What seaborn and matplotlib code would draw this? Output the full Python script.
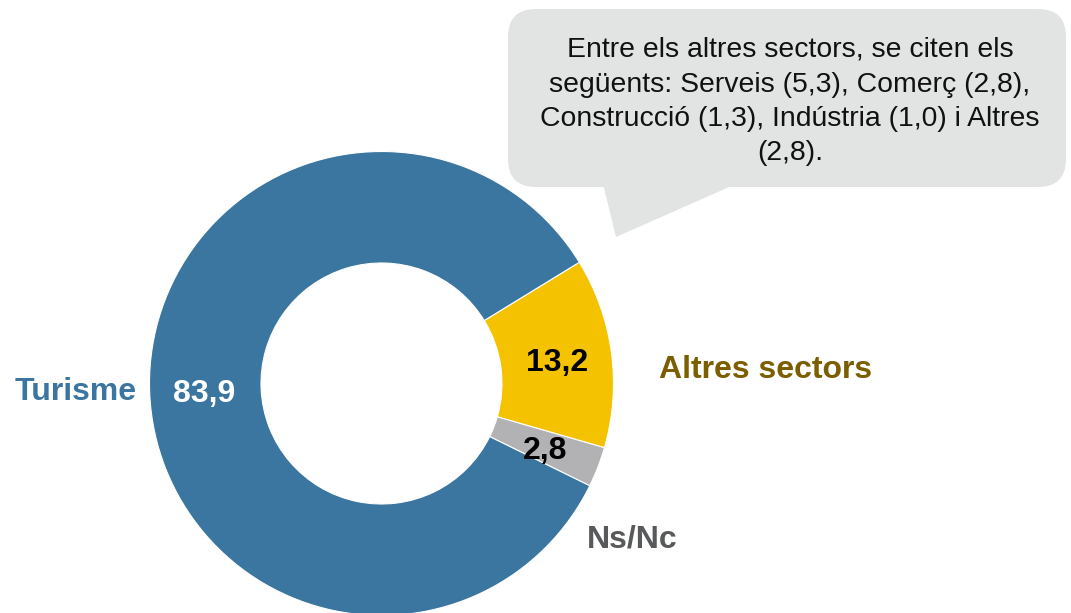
import matplotlib
matplotlib.use("Agg")
import matplotlib.pyplot as plt
import seaborn as sns
from matplotlib.patches import FancyBboxPatch, Polygon

# ---- data ----
categories = ["Altres sectors", "Ns/Nc", "Turisme"]
values = [13.2, 2.8, 83.9]
value_labels = ["13,2", "2,8", "83,9"]
callout_lines = [
    "Entre els altres sectors, se citen els",
    "següents: Serveis (5,3), Comerç (2,8),",
    "Construcció (1,3), Indústria (1,0) i Altres",
    "(2,8).",
]

# ---- style ----
colors = ["#F5C200", "#B2B2B4", "#3A76A0"]
cat_colors = ["#7B5E00", "#58595B", "#3A76A0"]
val_colors = ["black", "black", "white"]

sns.set_theme(style="white")
plt.rcParams['font.family'] = ['Liberation Sans', 'DejaVu Sans']

W, H = 1071, 613
fig = plt.figure(figsize=(W / 100, H / 100), dpi=100)
ax = fig.add_axes([0, 0, 1, 1])


def Y(y):
    return H - y


cx, cy, R, r_in = 381.5, 383.5, 232, 120.5
ax.pie(values, colors=colors, startangle=31.5, counterclock=False,
       center=(cx, Y(cy)), radius=R,
       wedgeprops=dict(width=R - r_in, edgecolor='white', linewidth=0.8))
ax.set_xlim(0, W)
ax.set_ylim(0, H)
ax.set_aspect('equal')
ax.axis('off')

# value labels (pixel positions: x center, baseline)
val_pos = [(557, 371), (545.5, 459), (204, 402)]
for lab, (x, y), c in zip(value_labels, val_pos, val_colors):
    ax.text(x, Y(y), lab, ha='center', va='baseline', fontsize=23,
            fontweight='bold', color=c)

# category labels
cat_pos = [(765.5, 378), (632, 547), (76, 400)]
for lab, (x, y), c in zip(categories, cat_pos, cat_colors):
    ax.text(x, Y(y), lab, ha='center', va='baseline', fontsize=23,
            fontweight='bold', color=c)

# callout bubble
box_col = "#E2E3E3"
bx0, by0, bx1, by1 = 508, 9, 1066, 187
ax.add_patch(FancyBboxPatch((bx0, Y(by1)), bx1 - bx0, by1 - by0,
                            boxstyle="round,pad=0,rounding_size=28",
                            facecolor=box_col, edgecolor='none', zorder=3))
ax.add_patch(Polygon([(602, Y(180)), (616, Y(237)), (745, Y(180))],
                     closed=True, facecolor=box_col, edgecolor='none', zorder=3))

baselines = [57, 91.5, 126, 160]
for line, yb in zip(callout_lines, baselines):
    ax.text(790, Y(yb), line, ha='center', va='baseline', fontsize=20.4,
            color='#111111', zorder=4)

fig.savefig("out.png", dpi=100)
